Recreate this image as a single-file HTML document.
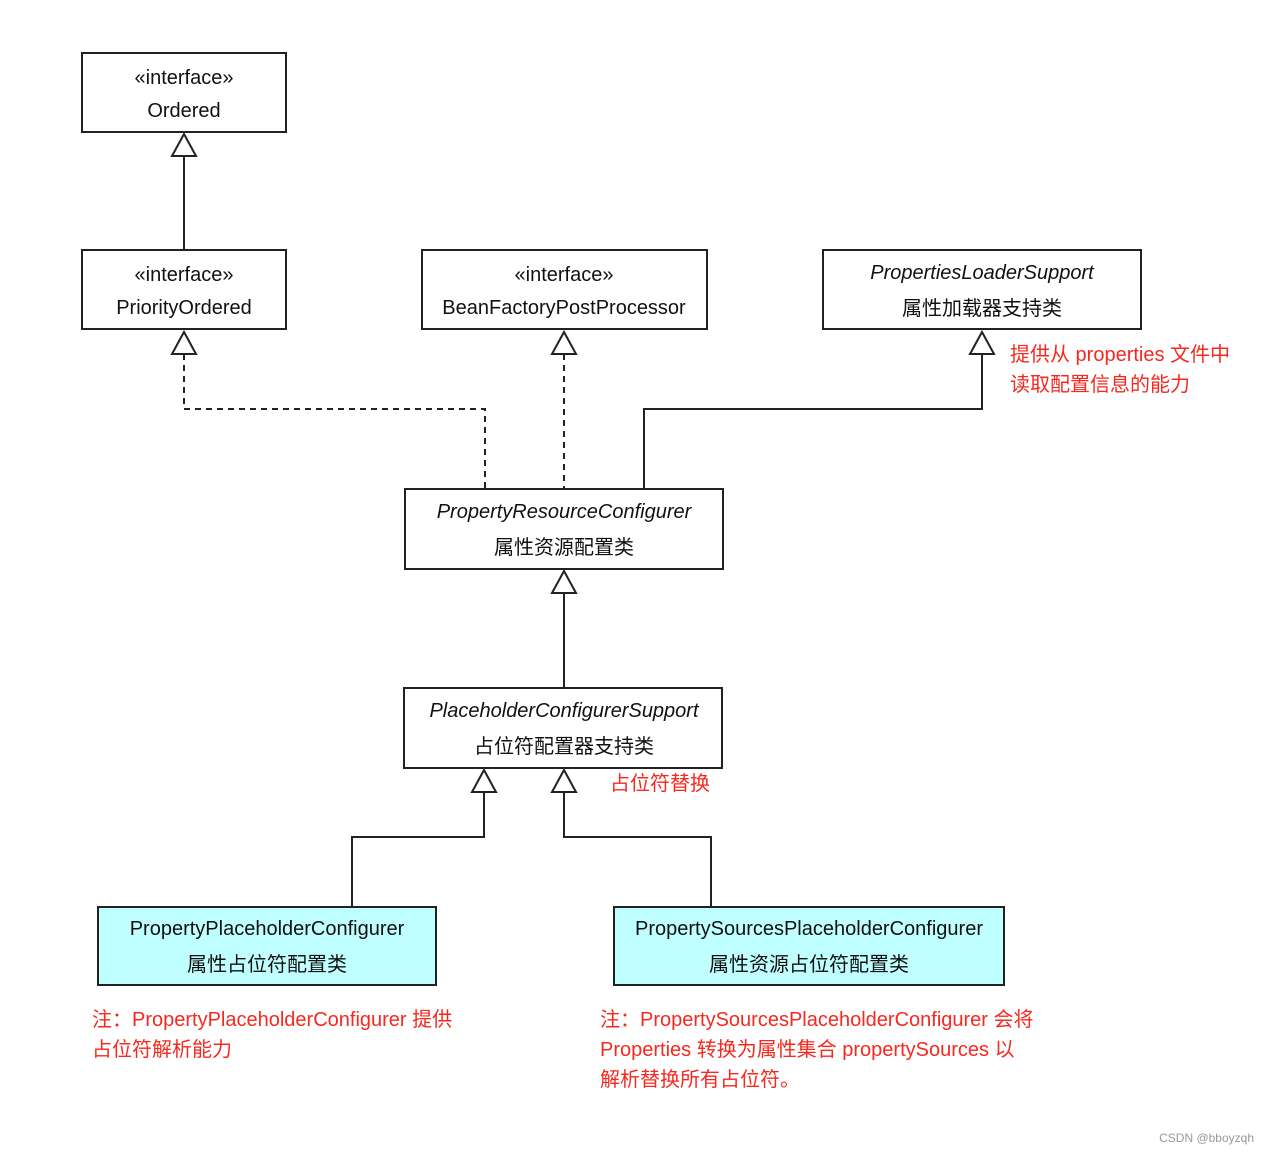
<!DOCTYPE html>
<html><head><meta charset="utf-8"><style>
body{margin:0;background:#fff}
svg text{font-family:"Liberation Sans","Noto Sans CJK SC",sans-serif;font-size:20px;fill:#111}
.r{fill:#f5291f}
.i{font-style:italic}
</style></head><body>
<svg width="1270" height="1154" viewBox="0 0 1270 1154" xmlns="http://www.w3.org/2000/svg">
<g stroke="#222" stroke-width="2" fill="#fff">
<rect x="82" y="53" width="204" height="79"/>
<rect x="82" y="250" width="204" height="79"/>
<rect x="422" y="250" width="285" height="79"/>
<rect x="823" y="250" width="318" height="79"/>
<rect x="405" y="489" width="318" height="80"/>
<rect x="404" y="688" width="318" height="80"/>
<rect x="98" y="907" width="338" height="78" fill="#c0ffff"/>
<rect x="614" y="907" width="390" height="78" fill="#c0ffff"/>
<g fill="none">
<path d="M184 156V250"/>
<path d="M184 354V409H485V489" stroke-dasharray="6,5"/>
<path d="M564 354V489" stroke-dasharray="6,5"/>
<path d="M982 354V409H644V489"/>
<path d="M564 593V688"/>
<path d="M484 792V837H352V907"/>
<path d="M564 792V837H711V907"/>
</g>
<path d="M184 134L172 156H196Z"/>
<path d="M184 332L172 354H196Z"/>
<path d="M564 332L552 354H576Z"/>
<path d="M982 332L970 354H994Z"/>
<path d="M564 571L552 593H576Z"/>
<path d="M484 770L472 792H496Z"/>
<path d="M564 770L552 792H576Z"/>
</g>
<g text-anchor="middle">
<text x="184" y="84">«interface»</text>
<text x="184" y="117">Ordered</text>
<text x="184" y="281">«interface»</text>
<text x="184" y="314">PriorityOrdered</text>
<text x="564" y="281">«interface»</text>
<text x="564" y="314">BeanFactoryPostProcessor</text>
<text x="982" y="279" class="i">PropertiesLoaderSupport</text>
<text x="982" y="315">属性加载器支持类</text>
<text x="564" y="518" class="i">PropertyResourceConfigurer</text>
<text x="564" y="554">属性资源配置类</text>
<text x="564" y="717" class="i">PlaceholderConfigurerSupport</text>
<text x="564" y="753">占位符配置器支持类</text>
<text x="267" y="935">PropertyPlaceholderConfigurer</text>
<text x="267" y="971">属性占位符配置类</text>
<text x="809" y="935">PropertySourcesPlaceholderConfigurer</text>
<text x="809" y="971">属性资源占位符配置类</text>
</g>
<text x="1010" y="361" class="r">提供从 properties 文件中</text>
<text x="1010" y="391" class="r">读取配置信息的能力</text>
<text x="610" y="790" class="r">占位符替换</text>
<text x="92" y="1026" class="r">注：PropertyPlaceholderConfigurer 提供</text>
<text x="92" y="1056" class="r">占位符解析能力</text>
<text x="600" y="1026" class="r">注：PropertySourcesPlaceholderConfigurer 会将</text>
<text x="600" y="1056" class="r"> Properties 转换为属性集合 propertySources 以</text>
<text x="600" y="1086" class="r">解析替换所有占位符。</text>
<text x="1254" y="1142" text-anchor="end" style="font-size:12px;fill:#999">CSDN @bboyzqh</text>
</svg>
</body></html>
